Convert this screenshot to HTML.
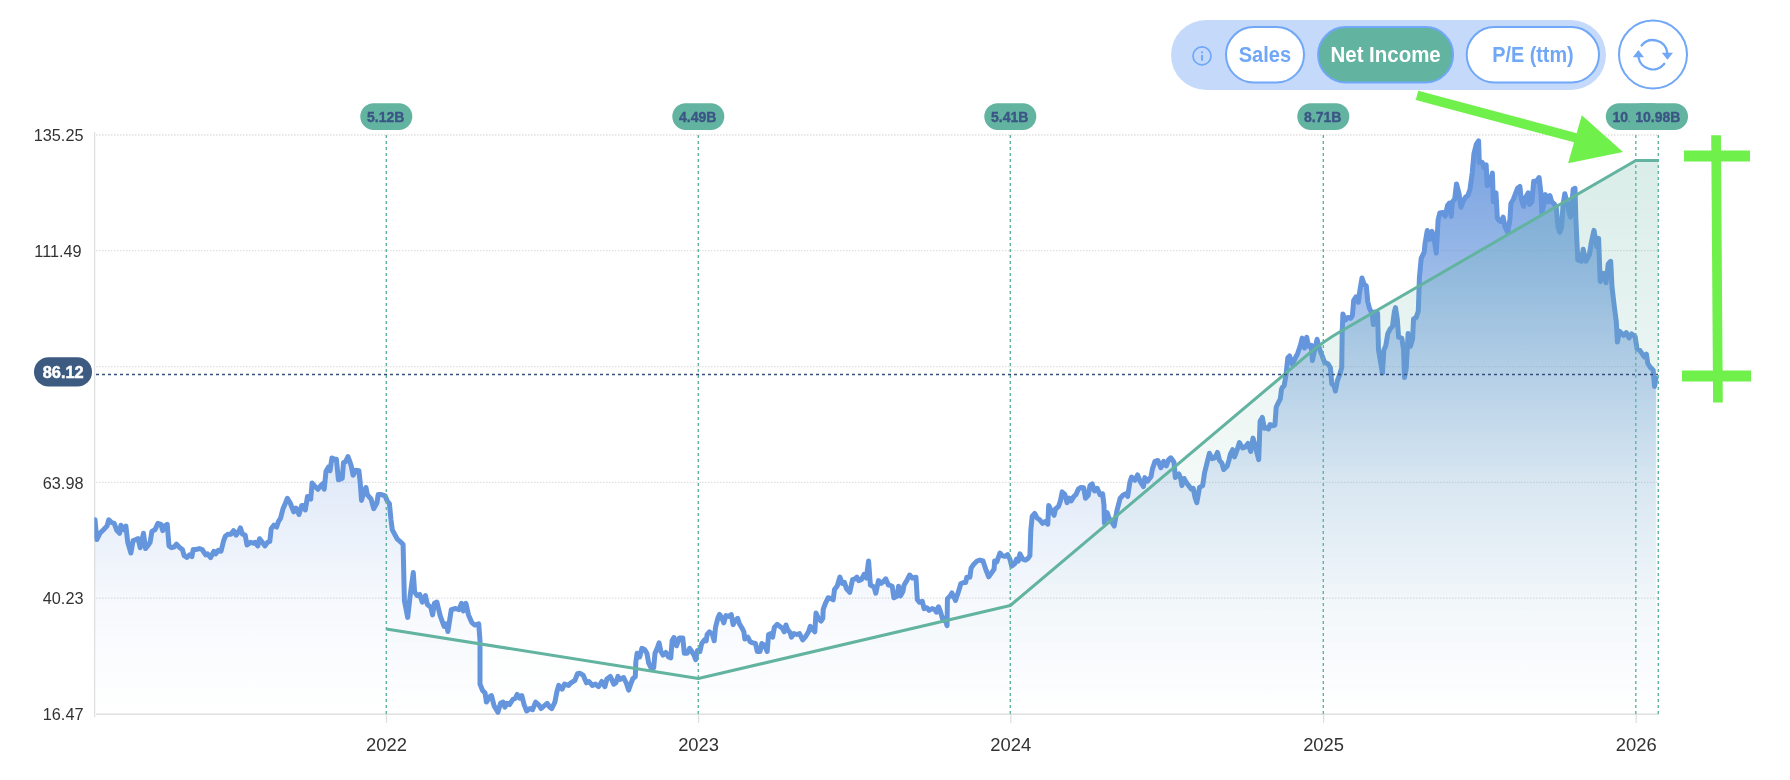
<!DOCTYPE html>
<html><head><meta charset="utf-8"><title>Chart</title>
<style>html,body{margin:0;padding:0;background:#fff;}body{width:1790px;height:780px;position:relative;overflow:hidden;font-family:"Liberation Sans",sans-serif;}</style></head>
<body>
<svg width="1790" height="780" viewBox="0 0 1790 780" style="position:absolute;left:0;top:0;will-change:transform;font-family:'Liberation Sans',sans-serif">
<defs>
<linearGradient id="bg" x1="0" y1="135" x2="0" y2="714" gradientUnits="userSpaceOnUse">
<stop offset="0" stop-color="#6595dc" stop-opacity="0.9"/>
<stop offset="0.11" stop-color="#6595dc" stop-opacity="0.78"/>
<stop offset="0.2" stop-color="#6595dc" stop-opacity="0.69"/>
<stop offset="0.42" stop-color="#6595dc" stop-opacity="0.40"/>
<stop offset="0.6" stop-color="#6595dc" stop-opacity="0.19"/>
<stop offset="0.8" stop-color="#6595dc" stop-opacity="0.06"/>
<stop offset="1" stop-color="#6595dc" stop-opacity="0"/>
</linearGradient>
<linearGradient id="gg" x1="0" y1="135" x2="0" y2="714" gradientUnits="userSpaceOnUse">
<stop offset="0" stop-color="#62b3a0" stop-opacity="0.25"/>
<stop offset="0.5" stop-color="#62b3a0" stop-opacity="0.10"/>
<stop offset="0.8" stop-color="#62b3a0" stop-opacity="0.03"/>
<stop offset="1" stop-color="#62b3a0" stop-opacity="0"/>
</linearGradient>
<clipPath id="cp"><rect x="94.3" y="100" width="1580" height="630"/></clipPath>
</defs>
<line x1="96" y1="135" x2="1658.5" y2="135" stroke="#e0e0e0" stroke-width="1.3" stroke-dasharray="1.5 1.5"/>
<line x1="96" y1="250.7" x2="1658.5" y2="250.7" stroke="#e0e0e0" stroke-width="1.3" stroke-dasharray="1.5 1.5"/>
<line x1="96" y1="366.6" x2="1658.5" y2="366.6" stroke="#e0e0e0" stroke-width="1.3" stroke-dasharray="1.5 1.5"/>
<line x1="96" y1="482.3" x2="1658.5" y2="482.3" stroke="#e0e0e0" stroke-width="1.3" stroke-dasharray="1.5 1.5"/>
<line x1="96" y1="598.1" x2="1658.5" y2="598.1" stroke="#e0e0e0" stroke-width="1.3" stroke-dasharray="1.5 1.5"/>
<line x1="94.6" y1="132" x2="94.6" y2="717" stroke="#e0e0e0" stroke-width="1.3"/>
<line x1="96" y1="714.3" x2="1659" y2="714.3" stroke="#e0e0e0" stroke-width="1.5"/>
<line x1="386.5" y1="714" x2="386.5" y2="723" stroke="#e0e0e0" stroke-width="1.3"/>
<text x="386.5" y="751.2" font-size="18.4" fill="#333" text-anchor="middle">2022</text>
<line x1="698.6" y1="714" x2="698.6" y2="723" stroke="#e0e0e0" stroke-width="1.3"/>
<text x="698.6" y="751.2" font-size="18.4" fill="#333" text-anchor="middle">2023</text>
<line x1="1010.8" y1="714" x2="1010.8" y2="723" stroke="#e0e0e0" stroke-width="1.3"/>
<text x="1010.8" y="751.2" font-size="18.4" fill="#333" text-anchor="middle">2024</text>
<line x1="1323.6" y1="714" x2="1323.6" y2="723" stroke="#e0e0e0" stroke-width="1.3"/>
<text x="1323.6" y="751.2" font-size="18.4" fill="#333" text-anchor="middle">2025</text>
<line x1="1636.2" y1="714" x2="1636.2" y2="723" stroke="#e0e0e0" stroke-width="1.3"/>
<text x="1636.2" y="751.2" font-size="18.4" fill="#333" text-anchor="middle">2026</text>
<text x="83.5" y="140.8" font-size="16.3" fill="#333" text-anchor="end">135.25</text>
<text x="81.7" y="257.0" font-size="16.3" fill="#333" text-anchor="end">111.49</text>
<text x="83.5" y="489.0" font-size="16.3" fill="#333" text-anchor="end">63.98</text>
<text x="83.5" y="603.8" font-size="16.3" fill="#333" text-anchor="end">40.23</text>
<text x="83.5" y="719.8" font-size="16.3" fill="#333" text-anchor="end">16.47</text>
<path d="M95.0,519.8 L96.8,539.6 L99.9,533.3 L103.5,529.7 L107.0,526.1 L108.8,519.8 L111.5,522.5 L114.2,523.4 L116.9,530.6 L119.6,533.3 L120.9,525.2 L123.2,529.7 L125.9,526.1 L127.7,542.3 L130.9,553.0 L133.1,540.5 L135.8,539.6 L138.1,538.7 L140.2,547.7 L143.5,533.3 L145.6,548.6 L148.3,545.0 L150.1,542.3 L151.9,531.5 L155.0,529.7 L157.8,523.4 L160.9,524.3 L162.7,530.6 L164.5,526.1 L167.2,524.3 L169.0,545.9 L171.6,547.7 L174.3,546.8 L176.5,544.1 L179.7,547.7 L182.4,549.5 L184.2,555.7 L186.9,557.5 L189.6,554.8 L191.9,556.6 L193.2,549.5 L195.9,549.5 L199.5,548.6 L202.1,549.5 L205.7,554.8 L207.5,553.9 L210.6,557.5 L213.8,551.3 L215.6,553.9 L218.3,550.4 L221.0,551.3 L223.7,540.5 L225.5,536.0 L228.2,534.2 L230.9,534.2 L233.5,530.6 L236.2,535.1 L238.6,531.5 L240.4,527.9 L242.5,534.2 L245.2,535.1 L247.0,545.0 L250.6,542.3 L253.3,543.2 L255.1,542.3 L257.8,545.9 L259.6,538.7 L262.3,542.3 L265.0,545.9 L267.6,542.3 L269.8,541.4 L271.2,528.8 L273.9,525.2 L276.6,527.0 L278.4,521.6 L280.6,518.1 L282.9,509.1 L285.6,502.8 L287.4,498.3 L290.1,502.8 L293.7,511.8 L296.0,508.2 L299.0,514.5 L301.7,505.5 L304.4,505.5 L305.3,510.0 L307.5,496.5 L310.7,499.2 L312.1,483.1 L315.2,486.7 L317.9,489.3 L320.6,485.8 L322.4,484.0 L324.2,489.3 L326.0,471.4 L328.7,466.9 L330.0,470.8 L331.9,458.0 L334.5,459.3 L336.4,459.3 L338.4,479.8 L342.2,478.5 L343.5,462.5 L345.4,461.8 L348.0,456.7 L349.9,461.8 L351.2,465.7 L353.1,475.3 L355.7,470.2 L358.9,470.8 L360.2,482.4 L361.5,500.4 L364.0,491.4 L366.0,487.5 L367.3,494.6 L371.1,499.1 L373.7,508.7 L376.9,503.0 L378.2,494.6 L381.4,494.6 L385.2,495.9 L387.2,501.0 L389.4,503.6 L391.0,519.7 L392.3,529.9 L397.4,539.2 L400.5,541.8 L403.1,544.4 L404.4,600.8 L407.7,617.4 L410.3,594.4 L413.3,572.6 L414.6,591.8 L417.2,595.6 L419.7,594.4 L422.3,602.1 L425.4,595.6 L427.4,604.6 L430.8,607.2 L432.6,614.9 L434.4,603.3 L436.9,602.1 L440.3,616.2 L444.1,626.4 L446.2,623.8 L447.9,631.5 L451.3,609.7 L455.6,608.5 L459.0,609.7 L461.5,603.3 L463.3,611.0 L465.9,603.3 L468.5,614.9 L471.8,622.6 L474.9,625.1 L478.7,623.8 L480.0,640.5 L480.0,684.1 L482.6,690.5 L485.1,693.1 L486.4,702.1 L489.7,696.9 L491.5,695.6 L494.1,705.9 L497.9,712.3 L500.5,703.3 L503.1,702.1 L504.9,707.2 L506.9,703.3 L509.5,704.6 L512.8,699.5 L515.4,698.2 L517.2,694.4 L519.7,698.2 L521.8,695.6 L524.1,704.6 L526.7,711.0 L530.0,708.5 L532.6,709.7 L535.6,702.1 L538.5,704.6 L541.0,708.5 L544.1,705.9 L547.2,703.3 L549.7,707.2 L551.8,708.5 L554.9,702.1 L556.9,691.8 L558.7,685.4 L562.1,689.2 L564.6,684.1 L568.5,685.4 L571.0,682.8 L574.9,680.3 L577.4,673.8 L580.0,673.3 L583.1,675.1 L586.4,682.8 L589.0,681.5 L592.3,685.4 L595.4,684.1 L598.5,686.7 L601.8,681.5 L604.9,686.7 L606.9,679.0 L610.3,676.4 L613.8,684.1 L615.9,682.8 L617.9,676.4 L620.0,679.4 L623.6,677.6 L626.3,683.0 L628.6,690.1 L630.8,683.9 L632.9,678.5 L635.3,676.7 L635.8,662.3 L637.1,653.3 L639.7,656.9 L641.9,648.3 L644.8,649.8 L646.9,653.3 L648.7,663.2 L651.4,668.6 L653.7,667.7 L655.0,653.3 L657.3,648.0 L659.1,642.9 L660.9,651.5 L663.1,655.1 L665.8,652.4 L668.5,656.9 L670.8,657.8 L672.1,640.8 L673.9,637.5 L676.5,645.8 L679.2,638.1 L682.8,638.1 L684.3,653.3 L687.3,653.3 L689.6,648.3 L691.8,651.5 L694.0,655.1 L695.7,659.6 L697.5,650.6 L699.9,651.5 L701.7,643.5 L704.4,639.9 L706.2,640.8 L707.1,634.5 L709.4,631.8 L712.4,634.5 L714.2,640.8 L715.5,627.3 L717.8,618.3 L719.6,614.4 L722.0,618.3 L723.8,622.8 L725.9,615.6 L728.6,616.5 L731.3,614.7 L733.1,624.6 L734.9,621.0 L737.6,618.3 L739.4,623.7 L742.1,628.2 L743.9,631.8 L744.8,639.0 L747.8,637.2 L750.1,641.7 L752.8,642.9 L755.5,643.5 L757.3,651.5 L760.0,651.5 L761.8,643.5 L764.5,645.3 L767.2,651.5 L768.6,634.5 L770.8,633.6 L772.6,637.2 L774.4,627.3 L777.1,624.3 L779.8,626.4 L782.4,628.2 L784.2,631.8 L786.0,625.0 L787.8,630.0 L790.2,632.7 L791.4,637.2 L794.1,633.6 L796.8,634.5 L799.5,633.6 L802.7,639.9 L805.8,636.3 L808.5,631.8 L810.3,626.4 L813.0,630.0 L814.8,631.8 L816.0,613.0 L818.3,618.3 L821.0,621.0 L822.8,618.3 L823.2,609.4 L825.5,603.1 L828.2,597.7 L830.9,598.6 L833.2,599.8 L834.5,589.6 L837.2,586.0 L839.9,577.1 L842.2,583.3 L844.4,582.4 L846.5,588.7 L849.8,592.3 L852.5,579.7 L855.1,578.8 L856.9,577.1 L858.7,580.6 L861.4,579.7 L864.1,574.4 L866.3,578.0 L868.6,560.9 L870.4,585.1 L874.0,586.9 L875.8,593.2 L878.5,580.6 L881.2,583.3 L883.5,581.5 L885.7,578.8 L888.4,585.1 L890.0,585.3 L892.2,586.2 L893.9,597.8 L897.2,596.0 L898.6,586.2 L900.4,596.0 L902.9,591.5 L904.0,585.3 L907.1,579.9 L909.7,575.0 L912.4,578.1 L916.0,577.2 L917.3,599.6 L919.6,602.3 L922.3,601.4 L924.1,608.6 L926.8,607.7 L929.1,610.4 L932.2,608.6 L934.9,609.5 L936.3,612.2 L938.5,606.8 L940.3,611.3 L943.0,620.3 L944.7,618.5 L947.1,625.7 L947.4,598.7 L950.1,596.0 L951.9,593.0 L955.5,600.5 L958.2,592.4 L960.9,583.5 L963.6,582.6 L965.7,582.6 L966.8,577.2 L969.9,577.2 L971.1,568.2 L973.5,564.6 L977.1,561.0 L979.8,560.1 L983.0,561.0 L986.0,570.0 L988.7,576.8 L992.3,571.8 L994.1,569.1 L994.6,561.0 L996.8,561.9 L999.9,553.0 L1002.2,555.6 L1004.9,556.5 L1007.6,554.7 L1009.9,559.2 L1011.7,566.1 L1014.8,563.7 L1016.5,559.2 L1018.3,561.0 L1020.0,553.9 L1022.7,559.2 L1025.4,560.1 L1028.1,558.3 L1029.9,555.7 L1030.8,530.5 L1032.2,516.2 L1034.7,513.5 L1037.1,518.0 L1039.7,519.8 L1042.4,523.3 L1045.1,521.5 L1047.8,524.2 L1048.7,505.4 L1050.9,509.9 L1054.1,515.3 L1055.5,509.0 L1058.6,506.3 L1060.4,500.9 L1062.2,491.9 L1064.9,494.6 L1067.0,502.7 L1069.4,498.2 L1071.2,500.9 L1073.9,496.4 L1076.0,494.6 L1078.3,489.2 L1081.0,487.4 L1083.7,487.8 L1085.5,498.2 L1088.2,495.5 L1090.0,485.6 L1092.2,483.9 L1094.5,491.0 L1097.2,488.3 L1099.9,494.6 L1102.6,493.7 L1104.0,505.4 L1104.4,523.3 L1107.1,512.6 L1108.9,518.0 L1111.5,521.5 L1114.2,526.0 L1116.9,510.8 L1120.2,498.2 L1123.2,495.0 L1125.9,493.7 L1127.7,496.4 L1129.9,482.1 L1131.6,477.0 L1134.9,480.3 L1137.6,474.9 L1140.6,482.1 L1143.5,486.5 L1144.8,477.6 L1147.4,481.2 L1151.0,476.7 L1152.5,468.6 L1155.0,461.4 L1157.9,460.5 L1160.9,467.7 L1163.6,461.4 L1166.3,465.9 L1168.6,459.6 L1170.8,457.8 L1174.0,462.3 L1175.3,477.6 L1178.9,474.0 L1180.7,478.5 L1181.9,485.6 L1184.2,478.5 L1186.0,482.1 L1188.7,485.6 L1191.4,489.2 L1193.2,488.3 L1195.0,497.3 L1196.8,502.7 L1198.6,492.8 L1199.5,487.4 L1202.7,485.6 L1204.5,473.1 L1206.7,464.1 L1209.4,453.3 L1212.1,458.7 L1214.8,457.8 L1217.5,452.4 L1219.6,460.5 L1221.9,463.2 L1223.7,469.5 L1227.3,465.9 L1229.1,459.6 L1230.4,454.2 L1232.7,449.7 L1234.5,456.9 L1237.2,449.7 L1239.4,442.6 L1242.6,448.0 L1245.3,447.1 L1248.0,443.5 L1250.7,451.5 L1253.0,438.1 L1255.5,447.1 L1258.7,459.6 L1260.1,421.3 L1262.3,417.4 L1264.4,428.3 L1266.5,427.7 L1268.5,429 L1270,424.5 L1272.3,425.8 L1274.9,425.1 L1276.2,407.2 L1278,403.3 L1280.3,398.8 L1281.5,389.2 L1282.4,387.4 L1284.2,385.7 L1286.0,374.9 L1287.8,357.8 L1289.6,356.0 L1292.3,364.1 L1295.0,358.7 L1297.7,353.3 L1300.4,345.3 L1302.2,338.1 L1304.5,348.0 L1306.7,337.2 L1308.5,346.2 L1311.2,345.3 L1312.4,360.5 L1314.7,349.8 L1317.1,339.3 L1319.2,348.0 L1321.9,355.1 L1324.6,362.3 L1328.2,364.1 L1330.4,367.7 L1331.8,383.9 L1334.0,385.7 L1335.4,391.0 L1337.5,380.3 L1339.9,374.0 L1341.7,367.7 L1342.2,331.8 L1342.9,313.9 L1345.3,320.1 L1348.0,317.4 L1350.6,318.3 L1352.4,315.6 L1353.7,300.4 L1356.0,296.8 L1358.4,302.2 L1359.6,292.3 L1362.0,278.0 L1364.1,284.2 L1366.3,286.0 L1367.7,301.3 L1369.5,308.5 L1372.2,313.9 L1373.4,324.6 L1374.9,312.1 L1377.6,313.0 L1378.5,349.8 L1381.2,365.9 L1382.4,373.1 L1383.9,349.8 L1385.7,346.2 L1387.8,333.6 L1390.1,329.1 L1392.5,326.4 L1394.3,312.1 L1395.5,307.6 L1397.3,319.2 L1398.6,337.2 L1401.8,338.1 L1403.6,349.8 L1404.5,377.6 L1406.3,367.7 L1408.1,333.6 L1410.4,346.2 L1412.6,339.0 L1413.5,319.2 L1416.2,317.4 L1418.3,311.2 L1419.4,278.0 L1421.2,258.3 L1424.2,252.1 L1425.1,243.1 L1427.3,230.5 L1429.6,239.5 L1432.0,231.4 L1434.5,241.3 L1436.3,253.0 L1438.1,219.8 L1439.8,212.9 L1442.7,212.6 L1445.2,216.2 L1447.6,205.4 L1449.4,203.2 L1451.2,216.2 L1452.4,201.8 L1454.7,199.1 L1456.5,183.9 L1458.9,192.8 L1461.0,207.2 L1463.2,200.9 L1465.5,197.3 L1467.9,195.5 L1470.0,189.2 L1472.2,173.1 L1474.0,153.3 L1476.3,144.4 L1478.6,140.8 L1479.3,162.3 L1482.2,162.3 L1484.0,167.7 L1486.2,165.0 L1487.1,185.6 L1489.8,183.9 L1492.4,173.1 L1493.3,201.8 L1496.0,192.8 L1497.3,218.0 L1499.1,220.6 L1500.9,221.5 L1503.2,217.1 L1505.0,226.9 L1507.7,232.3 L1509.9,219.8 L1510.9,203.6 L1513.4,199.1 L1515.8,192.8 L1517.6,188.3 L1519.9,186.5 L1521.2,199.1 L1523.5,206.3 L1525.7,197.3 L1528.3,192.8 L1529.6,204.5 L1531.9,201.8 L1533.7,181.2 L1536.4,181.2 L1539.1,177.6 L1540.9,192.8 L1541.8,212.6 L1543.6,205.4 L1545.4,194.6 L1547.5,201.8 L1549.9,195.5 L1551.7,201.8 L1554.0,203.6 L1556.2,207.2 L1558.0,226.9 L1559.8,232.3 L1561.6,226.9 L1563.0,205.4 L1564.8,193.7 L1566.9,201.8 L1569.1,212.6 L1570.5,217.1 L1572.0,201.8 L1573.2,189.2 L1575.0,188.3 L1575.9,219.8 L1577.8,259.9 L1581.3,261.3 L1583.2,249.2 L1585.9,261.3 L1589.4,254.6 L1591.3,242.5 L1594.0,230.4 L1596.7,246.5 L1598.6,238.4 L1600.2,281.5 L1603.4,273.4 L1606.1,282.8 L1608.2,264.0 L1610.7,261.3 L1612.0,286.9 L1614.2,305.7 L1616.3,321.8 L1617.4,342.0 L1619.5,331.2 L1623.6,335.3 L1626.3,332.6 L1629.0,338.0 L1631.6,333.9 L1635.1,336.6 L1637.0,348.7 L1639.7,350.1 L1642.4,354.1 L1644.3,356.8 L1646.4,354.1 L1647.8,363.5 L1650.5,367.6 L1653.2,370.3 L1654.5,386.4 L1655.9,378.3 L1655.9,714.3 L95.0,714.3 Z" fill="url(#bg)"/>
<path d="M95.0,519.8 L96.8,539.6 L99.9,533.3 L103.5,529.7 L107.0,526.1 L108.8,519.8 L111.5,522.5 L114.2,523.4 L116.9,530.6 L119.6,533.3 L120.9,525.2 L123.2,529.7 L125.9,526.1 L127.7,542.3 L130.9,553.0 L133.1,540.5 L135.8,539.6 L138.1,538.7 L140.2,547.7 L143.5,533.3 L145.6,548.6 L148.3,545.0 L150.1,542.3 L151.9,531.5 L155.0,529.7 L157.8,523.4 L160.9,524.3 L162.7,530.6 L164.5,526.1 L167.2,524.3 L169.0,545.9 L171.6,547.7 L174.3,546.8 L176.5,544.1 L179.7,547.7 L182.4,549.5 L184.2,555.7 L186.9,557.5 L189.6,554.8 L191.9,556.6 L193.2,549.5 L195.9,549.5 L199.5,548.6 L202.1,549.5 L205.7,554.8 L207.5,553.9 L210.6,557.5 L213.8,551.3 L215.6,553.9 L218.3,550.4 L221.0,551.3 L223.7,540.5 L225.5,536.0 L228.2,534.2 L230.9,534.2 L233.5,530.6 L236.2,535.1 L238.6,531.5 L240.4,527.9 L242.5,534.2 L245.2,535.1 L247.0,545.0 L250.6,542.3 L253.3,543.2 L255.1,542.3 L257.8,545.9 L259.6,538.7 L262.3,542.3 L265.0,545.9 L267.6,542.3 L269.8,541.4 L271.2,528.8 L273.9,525.2 L276.6,527.0 L278.4,521.6 L280.6,518.1 L282.9,509.1 L285.6,502.8 L287.4,498.3 L290.1,502.8 L293.7,511.8 L296.0,508.2 L299.0,514.5 L301.7,505.5 L304.4,505.5 L305.3,510.0 L307.5,496.5 L310.7,499.2 L312.1,483.1 L315.2,486.7 L317.9,489.3 L320.6,485.8 L322.4,484.0 L324.2,489.3 L326.0,471.4 L328.7,466.9 L330.0,470.8 L331.9,458.0 L334.5,459.3 L336.4,459.3 L338.4,479.8 L342.2,478.5 L343.5,462.5 L345.4,461.8 L348.0,456.7 L349.9,461.8 L351.2,465.7 L353.1,475.3 L355.7,470.2 L358.9,470.8 L360.2,482.4 L361.5,500.4 L364.0,491.4 L366.0,487.5 L367.3,494.6 L371.1,499.1 L373.7,508.7 L376.9,503.0 L378.2,494.6 L381.4,494.6 L385.2,495.9 L387.2,501.0 L389.4,503.6 L391.0,519.7 L392.3,529.9 L397.4,539.2 L400.5,541.8 L403.1,544.4 L404.4,600.8 L407.7,617.4 L410.3,594.4 L413.3,572.6 L414.6,591.8 L417.2,595.6 L419.7,594.4 L422.3,602.1 L425.4,595.6 L427.4,604.6 L430.8,607.2 L432.6,614.9 L434.4,603.3 L436.9,602.1 L440.3,616.2 L444.1,626.4 L446.2,623.8 L447.9,631.5 L451.3,609.7 L455.6,608.5 L459.0,609.7 L461.5,603.3 L463.3,611.0 L465.9,603.3 L468.5,614.9 L471.8,622.6 L474.9,625.1 L478.7,623.8 L480.0,640.5 L480.0,684.1 L482.6,690.5 L485.1,693.1 L486.4,702.1 L489.7,696.9 L491.5,695.6 L494.1,705.9 L497.9,712.3 L500.5,703.3 L503.1,702.1 L504.9,707.2 L506.9,703.3 L509.5,704.6 L512.8,699.5 L515.4,698.2 L517.2,694.4 L519.7,698.2 L521.8,695.6 L524.1,704.6 L526.7,711.0 L530.0,708.5 L532.6,709.7 L535.6,702.1 L538.5,704.6 L541.0,708.5 L544.1,705.9 L547.2,703.3 L549.7,707.2 L551.8,708.5 L554.9,702.1 L556.9,691.8 L558.7,685.4 L562.1,689.2 L564.6,684.1 L568.5,685.4 L571.0,682.8 L574.9,680.3 L577.4,673.8 L580.0,673.3 L583.1,675.1 L586.4,682.8 L589.0,681.5 L592.3,685.4 L595.4,684.1 L598.5,686.7 L601.8,681.5 L604.9,686.7 L606.9,679.0 L610.3,676.4 L613.8,684.1 L615.9,682.8 L617.9,676.4 L620.0,679.4 L623.6,677.6 L626.3,683.0 L628.6,690.1 L630.8,683.9 L632.9,678.5 L635.3,676.7 L635.8,662.3 L637.1,653.3 L639.7,656.9 L641.9,648.3 L644.8,649.8 L646.9,653.3 L648.7,663.2 L651.4,668.6 L653.7,667.7 L655.0,653.3 L657.3,648.0 L659.1,642.9 L660.9,651.5 L663.1,655.1 L665.8,652.4 L668.5,656.9 L670.8,657.8 L672.1,640.8 L673.9,637.5 L676.5,645.8 L679.2,638.1 L682.8,638.1 L684.3,653.3 L687.3,653.3 L689.6,648.3 L691.8,651.5 L694.0,655.1 L695.7,659.6 L697.5,650.6 L699.9,651.5 L701.7,643.5 L704.4,639.9 L706.2,640.8 L707.1,634.5 L709.4,631.8 L712.4,634.5 L714.2,640.8 L715.5,627.3 L717.8,618.3 L719.6,614.4 L722.0,618.3 L723.8,622.8 L725.9,615.6 L728.6,616.5 L731.3,614.7 L733.1,624.6 L734.9,621.0 L737.6,618.3 L739.4,623.7 L742.1,628.2 L743.9,631.8 L744.8,639.0 L747.8,637.2 L750.1,641.7 L752.8,642.9 L755.5,643.5 L757.3,651.5 L760.0,651.5 L761.8,643.5 L764.5,645.3 L767.2,651.5 L768.6,634.5 L770.8,633.6 L772.6,637.2 L774.4,627.3 L777.1,624.3 L779.8,626.4 L782.4,628.2 L784.2,631.8 L786.0,625.0 L787.8,630.0 L790.2,632.7 L791.4,637.2 L794.1,633.6 L796.8,634.5 L799.5,633.6 L802.7,639.9 L805.8,636.3 L808.5,631.8 L810.3,626.4 L813.0,630.0 L814.8,631.8 L816.0,613.0 L818.3,618.3 L821.0,621.0 L822.8,618.3 L823.2,609.4 L825.5,603.1 L828.2,597.7 L830.9,598.6 L833.2,599.8 L834.5,589.6 L837.2,586.0 L839.9,577.1 L842.2,583.3 L844.4,582.4 L846.5,588.7 L849.8,592.3 L852.5,579.7 L855.1,578.8 L856.9,577.1 L858.7,580.6 L861.4,579.7 L864.1,574.4 L866.3,578.0 L868.6,560.9 L870.4,585.1 L874.0,586.9 L875.8,593.2 L878.5,580.6 L881.2,583.3 L883.5,581.5 L885.7,578.8 L888.4,585.1 L890.0,585.3 L892.2,586.2 L893.9,597.8 L897.2,596.0 L898.6,586.2 L900.4,596.0 L902.9,591.5 L904.0,585.3 L907.1,579.9 L909.7,575.0 L912.4,578.1 L916.0,577.2 L917.3,599.6 L919.6,602.3 L922.3,601.4 L924.1,608.6 L926.8,607.7 L929.1,610.4 L932.2,608.6 L934.9,609.5 L936.3,612.2 L938.5,606.8 L940.3,611.3 L943.0,620.3 L944.7,618.5 L947.1,625.7 L947.4,598.7 L950.1,596.0 L951.9,593.0 L955.5,600.5 L958.2,592.4 L960.9,583.5 L963.6,582.6 L965.7,582.6 L966.8,577.2 L969.9,577.2 L971.1,568.2 L973.5,564.6 L977.1,561.0 L979.8,560.1 L983.0,561.0 L986.0,570.0 L988.7,576.8 L992.3,571.8 L994.1,569.1 L994.6,561.0 L996.8,561.9 L999.9,553.0 L1002.2,555.6 L1004.9,556.5 L1007.6,554.7 L1009.9,559.2 L1011.7,566.1 L1014.8,563.7 L1016.5,559.2 L1018.3,561.0 L1020.0,553.9 L1022.7,559.2 L1025.4,560.1 L1028.1,558.3 L1029.9,555.7 L1030.8,530.5 L1032.2,516.2 L1034.7,513.5 L1037.1,518.0 L1039.7,519.8 L1042.4,523.3 L1045.1,521.5 L1047.8,524.2 L1048.7,505.4 L1050.9,509.9 L1054.1,515.3 L1055.5,509.0 L1058.6,506.3 L1060.4,500.9 L1062.2,491.9 L1064.9,494.6 L1067.0,502.7 L1069.4,498.2 L1071.2,500.9 L1073.9,496.4 L1076.0,494.6 L1078.3,489.2 L1081.0,487.4 L1083.7,487.8 L1085.5,498.2 L1088.2,495.5 L1090.0,485.6 L1092.2,483.9 L1094.5,491.0 L1097.2,488.3 L1099.9,494.6 L1102.6,493.7 L1104.0,505.4 L1104.4,523.3 L1107.1,512.6 L1108.9,518.0 L1111.5,521.5 L1114.2,526.0 L1116.9,510.8 L1120.2,498.2 L1123.2,495.0 L1125.9,493.7 L1127.7,496.4 L1129.9,482.1 L1131.6,477.0 L1134.9,480.3 L1137.6,474.9 L1140.6,482.1 L1143.5,486.5 L1144.8,477.6 L1147.4,481.2 L1151.0,476.7 L1152.5,468.6 L1155.0,461.4 L1157.9,460.5 L1160.9,467.7 L1163.6,461.4 L1166.3,465.9 L1168.6,459.6 L1170.8,457.8 L1174.0,462.3 L1175.3,477.6 L1178.9,474.0 L1180.7,478.5 L1181.9,485.6 L1184.2,478.5 L1186.0,482.1 L1188.7,485.6 L1191.4,489.2 L1193.2,488.3 L1195.0,497.3 L1196.8,502.7 L1198.6,492.8 L1199.5,487.4 L1202.7,485.6 L1204.5,473.1 L1206.7,464.1 L1209.4,453.3 L1212.1,458.7 L1214.8,457.8 L1217.5,452.4 L1219.6,460.5 L1221.9,463.2 L1223.7,469.5 L1227.3,465.9 L1229.1,459.6 L1230.4,454.2 L1232.7,449.7 L1234.5,456.9 L1237.2,449.7 L1239.4,442.6 L1242.6,448.0 L1245.3,447.1 L1248.0,443.5 L1250.7,451.5 L1253.0,438.1 L1255.5,447.1 L1258.7,459.6 L1260.1,421.3 L1262.3,417.4 L1264.4,428.3 L1266.5,427.7 L1268.5,429 L1270,424.5 L1272.3,425.8 L1274.9,425.1 L1276.2,407.2 L1278,403.3 L1280.3,398.8 L1281.5,389.2 L1282.4,387.4 L1284.2,385.7 L1286.0,374.9 L1287.8,357.8 L1289.6,356.0 L1292.3,364.1 L1295.0,358.7 L1297.7,353.3 L1300.4,345.3 L1302.2,338.1 L1304.5,348.0 L1306.7,337.2 L1308.5,346.2 L1311.2,345.3 L1312.4,360.5 L1314.7,349.8 L1317.1,339.3 L1319.2,348.0 L1321.9,355.1 L1324.6,362.3 L1328.2,364.1 L1330.4,367.7 L1331.8,383.9 L1334.0,385.7 L1335.4,391.0 L1337.5,380.3 L1339.9,374.0 L1341.7,367.7 L1342.2,331.8 L1342.9,313.9 L1345.3,320.1 L1348.0,317.4 L1350.6,318.3 L1352.4,315.6 L1353.7,300.4 L1356.0,296.8 L1358.4,302.2 L1359.6,292.3 L1362.0,278.0 L1364.1,284.2 L1366.3,286.0 L1367.7,301.3 L1369.5,308.5 L1372.2,313.9 L1373.4,324.6 L1374.9,312.1 L1377.6,313.0 L1378.5,349.8 L1381.2,365.9 L1382.4,373.1 L1383.9,349.8 L1385.7,346.2 L1387.8,333.6 L1390.1,329.1 L1392.5,326.4 L1394.3,312.1 L1395.5,307.6 L1397.3,319.2 L1398.6,337.2 L1401.8,338.1 L1403.6,349.8 L1404.5,377.6 L1406.3,367.7 L1408.1,333.6 L1410.4,346.2 L1412.6,339.0 L1413.5,319.2 L1416.2,317.4 L1418.3,311.2 L1419.4,278.0 L1421.2,258.3 L1424.2,252.1 L1425.1,243.1 L1427.3,230.5 L1429.6,239.5 L1432.0,231.4 L1434.5,241.3 L1436.3,253.0 L1438.1,219.8 L1439.8,212.9 L1442.7,212.6 L1445.2,216.2 L1447.6,205.4 L1449.4,203.2 L1451.2,216.2 L1452.4,201.8 L1454.7,199.1 L1456.5,183.9 L1458.9,192.8 L1461.0,207.2 L1463.2,200.9 L1465.5,197.3 L1467.9,195.5 L1470.0,189.2 L1472.2,173.1 L1474.0,153.3 L1476.3,144.4 L1478.6,140.8 L1479.3,162.3 L1482.2,162.3 L1484.0,167.7 L1486.2,165.0 L1487.1,185.6 L1489.8,183.9 L1492.4,173.1 L1493.3,201.8 L1496.0,192.8 L1497.3,218.0 L1499.1,220.6 L1500.9,221.5 L1503.2,217.1 L1505.0,226.9 L1507.7,232.3 L1509.9,219.8 L1510.9,203.6 L1513.4,199.1 L1515.8,192.8 L1517.6,188.3 L1519.9,186.5 L1521.2,199.1 L1523.5,206.3 L1525.7,197.3 L1528.3,192.8 L1529.6,204.5 L1531.9,201.8 L1533.7,181.2 L1536.4,181.2 L1539.1,177.6 L1540.9,192.8 L1541.8,212.6 L1543.6,205.4 L1545.4,194.6 L1547.5,201.8 L1549.9,195.5 L1551.7,201.8 L1554.0,203.6 L1556.2,207.2 L1558.0,226.9 L1559.8,232.3 L1561.6,226.9 L1563.0,205.4 L1564.8,193.7 L1566.9,201.8 L1569.1,212.6 L1570.5,217.1 L1572.0,201.8 L1573.2,189.2 L1575.0,188.3 L1575.9,219.8 L1577.8,259.9 L1581.3,261.3 L1583.2,249.2 L1585.9,261.3 L1589.4,254.6 L1591.3,242.5 L1594.0,230.4 L1596.7,246.5 L1598.6,238.4 L1600.2,281.5 L1603.4,273.4 L1606.1,282.8 L1608.2,264.0 L1610.7,261.3 L1612.0,286.9 L1614.2,305.7 L1616.3,321.8 L1617.4,342.0 L1619.5,331.2 L1623.6,335.3 L1626.3,332.6 L1629.0,338.0 L1631.6,333.9 L1635.1,336.6 L1637.0,348.7 L1639.7,350.1 L1642.4,354.1 L1644.3,356.8 L1646.4,354.1 L1647.8,363.5 L1650.5,367.6 L1653.2,370.3 L1654.5,386.4 L1655.9,378.3" fill="none" stroke="#6595dc" stroke-width="5" stroke-linejoin="round" stroke-linecap="round" clip-path="url(#cp)"/>
<line x1="386.3" y1="135" x2="386.3" y2="714" stroke="#62b3a0" stroke-width="1.4" stroke-dasharray="3 3"/>
<line x1="698.3" y1="135" x2="698.3" y2="714" stroke="#62b3a0" stroke-width="1.4" stroke-dasharray="3 3"/>
<line x1="1010.3" y1="135" x2="1010.3" y2="714" stroke="#62b3a0" stroke-width="1.4" stroke-dasharray="3 3"/>
<line x1="1323.3" y1="135" x2="1323.3" y2="714" stroke="#62b3a0" stroke-width="1.4" stroke-dasharray="3 3"/>
<line x1="1635.8" y1="135" x2="1635.8" y2="714" stroke="#62b3a0" stroke-width="1.4" stroke-dasharray="3 3"/>
<line x1="1658.3" y1="135" x2="1658.3" y2="714" stroke="#62b3a0" stroke-width="1.4" stroke-dasharray="3 3"/>
<path d="M386.3,629 L698.3,678.5 L1010.3,605.5 L1308,354.4 Q1323.3,341.5 1340,331.8 L1635.8,160.5 L1658.3,160.5 L1658.3,714.3 L386.3,714.3 Z" fill="url(#gg)"/>
<path d="M386.3,629 L698.3,678.5 L1010.3,605.5 L1308,354.4 Q1323.3,341.5 1340,331.8 L1635.8,160.5 L1658.3,160.5" fill="none" stroke="#62b3a0" stroke-width="3" stroke-linejoin="round"/>
<line x1="96" y1="374.5" x2="1658" y2="374.5" stroke="#34507c" stroke-width="1.6" stroke-dasharray="3 3"/>
<rect x="34" y="357.3" width="58" height="29.2" rx="14.6" fill="#3d5a80"/>
<text x="63.2" y="378.3" font-size="16.4" font-weight="bold" fill="#fff" stroke="#fff" stroke-width="0.5" text-anchor="middle">86.12</text>
<rect x="360.3" y="103.2" width="52" height="26.8" rx="13.4" fill="#62b3a0"/>
<text x="385.7" y="121.7" font-size="14" font-weight="bold" fill="#3b5585" stroke="#3b5585" stroke-width="0.35" text-anchor="middle">5.12B</text>
<rect x="672.3" y="103.2" width="52" height="26.8" rx="13.4" fill="#62b3a0"/>
<text x="697.6999999999999" y="121.7" font-size="14" font-weight="bold" fill="#3b5585" stroke="#3b5585" stroke-width="0.35" text-anchor="middle">4.49B</text>
<rect x="984.3" y="103.2" width="52" height="26.8" rx="13.4" fill="#62b3a0"/>
<text x="1009.6999999999999" y="121.7" font-size="14" font-weight="bold" fill="#3b5585" stroke="#3b5585" stroke-width="0.35" text-anchor="middle">5.41B</text>
<rect x="1297.3" y="103.2" width="52" height="26.8" rx="13.4" fill="#62b3a0"/>
<text x="1322.7" y="121.7" font-size="14" font-weight="bold" fill="#3b5585" stroke="#3b5585" stroke-width="0.35" text-anchor="middle">8.71B</text>
<rect x="1605.8" y="103.2" width="60" height="26.8" rx="13.4" fill="#62b3a0"/>
<text x="1612.5" y="121.7" font-size="14" font-weight="bold" fill="#3b5585" stroke="#3b5585" stroke-width="0.35">10.</text>
<rect x="1628.5" y="103.2" width="59.5" height="26.8" rx="13.4" fill="#62b3a0"/>
<text x="1657.8" y="121.7" font-size="14" font-weight="bold" fill="#3b5585" stroke="#3b5585" stroke-width="0.35" text-anchor="middle">10.98B</text>
<rect x="1171" y="20" width="435" height="70" rx="35" fill="#c5dafa"/>
<circle cx="1202" cy="55.9" r="9" fill="none" stroke="#70a7f7" stroke-width="1.7"/>
<rect x="1201.05" y="55" width="2" height="5.7" fill="#70a7f7"/><rect x="1201.05" y="51.4" width="2" height="1.9" fill="#70a7f7"/>
<rect x="1226" y="27.1" width="78" height="55.4" rx="27.7" fill="#fff" stroke="#70a7f7" stroke-width="2"/>
<text x="1238.7" y="62.1" font-size="22" font-weight="bold" fill="#70a7f7" textLength="52.4" lengthAdjust="spacingAndGlyphs">Sales</text>
<rect x="1318.1" y="27.1" width="135.0" height="55.4" rx="27.7" fill="#62b3a0" stroke="#70a7f7" stroke-width="2"/>
<text x="1330.5" y="62.1" font-size="22" font-weight="bold" fill="#fff" textLength="110.2" lengthAdjust="spacingAndGlyphs">Net Income</text>
<rect x="1466.7" y="27.1" width="132.29999999999995" height="55.4" rx="27.7" fill="#fff" stroke="#70a7f7" stroke-width="2"/>
<text x="1492.2" y="62.1" font-size="22" font-weight="bold" fill="#70a7f7" textLength="81.5" lengthAdjust="spacingAndGlyphs">P/E (ttm)</text>
<circle cx="1653" cy="54.6" r="34" fill="#fff" stroke="#70a7f7" stroke-width="2"/>
<g fill="none" stroke="#70a7f7" stroke-width="2.3" stroke-linecap="round">
<path d="M1641.6,45.5 A14.5,14.5 0 0 1 1667.2,52.5"/>
<path d="M1664.3,63.8 A14.5,14.5 0 0 1 1638.5,57.2"/>
</g>
<path d="M1661.8,52.7 L1673,52.7 L1667.4,59.7 Z" fill="#70a7f7"/>
<path d="M1632.8,57.2 L1644,57.2 L1638.4,50.1 Z" fill="#70a7f7"/>
<line x1="1417" y1="95.3" x2="1582" y2="139.5" stroke="#70f04a" stroke-width="9.5"/>
<path d="M1581.8,115.2 L1623,152.1 L1568.1,163.3 Z" fill="#70f04a"/>
<path d="M1711.2,135.3 L1720.9,135.3 L1722.8,402.6 L1713.1,402.6 Z" fill="#70f04a"/>
<rect x="1684" y="150.5" width="66" height="11" fill="#70f04a"/>
<rect x="1682" y="370.5" width="69" height="11" fill="#70f04a"/>
</svg>
</body></html>
